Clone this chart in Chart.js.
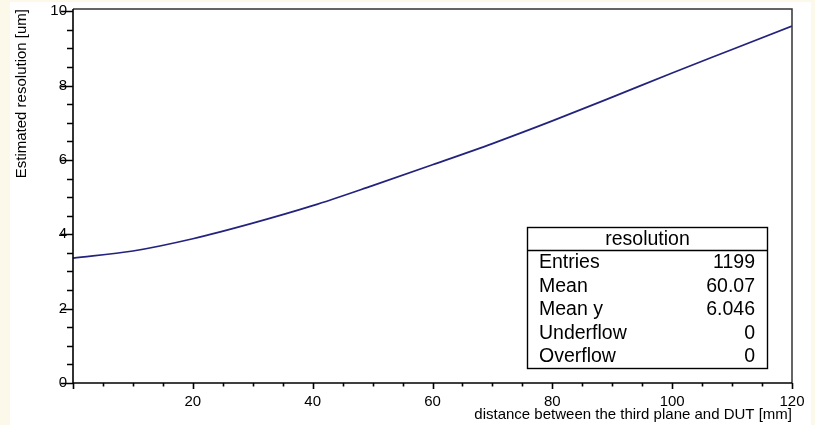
<!DOCTYPE html>
<html>
<head>
<meta charset="utf-8">
<script src="https://cdn.jsdelivr.net/npm/chart.js@4/dist/chart.umd.min.js"></script>
<style>
  html, body { margin: 0; padding: 0; background: #fcf8ea; }
  #wrap { width: 815px; height: 425px; }
</style>
</head>
<body>
<div id="wrap"><canvas id="resChart" width="815" height="425"></canvas></div>
<script>
// distance between the third plane and DUT [mm]
const distances = [0, 10, 20, 30, 40, 50, 60, 70, 80, 90, 100, 110, 120];
// estimated resolution [um]
const resolutions = [3.36, 3.55, 3.88, 4.30, 4.77, 5.31, 5.87, 6.44, 7.05, 7.69, 8.34, 8.97, 9.60];

const xTickLabels = [20, 40, 60, 80, 100, 120];
const yTickLabels = [0, 2, 4, 6, 8, 10];

// stats box
const statsTitle = 'resolution';
const statsNames = ['Entries', 'Mean', 'Mean y', 'Underflow', 'Overflow'];
const statsValues = ['1199', '60.07', '6.046', '0', '0'];

const FONT = '"Liberation Sans", Arial, sans-serif';

// cream page with white pad
const padBackground = {
  id: 'padBackground',
  beforeDraw(chart) {
    const c = chart.ctx;
    c.save();
    c.fillStyle = '#fcf8ea';
    c.fillRect(0, 0, chart.width, chart.height);
    c.fillStyle = '#ffffff';
    c.fillRect(10, 2, 801, 423);
    c.restore();
  }
};

// ROOT style frame + major/minor ticks
const rootFrame = {
  id: 'rootFrame',
  afterDatasetsDraw(chart) {
    const c = chart.ctx;
    const a = chart.chartArea;
    const xs = chart.scales.x, ys = chart.scales.y;
    c.save();
    c.strokeStyle = '#333';
    c.lineWidth = 1.5;
    c.beginPath();
    c.moveTo(a.left, a.top); c.lineTo(a.right, a.top); c.lineTo(a.right, a.bottom);
    c.stroke();
    c.strokeStyle = '#000';
    c.lineWidth = 1.6;
    c.beginPath();
    c.moveTo(a.left, a.top); c.lineTo(a.left, a.bottom); c.lineTo(a.right, a.bottom);
    // x ticks
    for (let v = 0; v <= 120; v += 5) {
      const px = Math.round(xs.getPixelForValue(v)) + 0.5;
      const len = v % 20 === 0 ? 6 : 3.5;
      c.moveTo(px, a.bottom); c.lineTo(px, a.bottom + len);
    }
    // y ticks
    for (let v = 0; v <= 10; v += 0.5) {
      const py = Math.round(ys.getPixelForValue(v)) + 0.5;
      const len = v % 2 === 0 ? 12 : 6;
      c.moveTo(a.left, py); c.lineTo(a.left - len, py);
    }
    c.stroke();
    c.restore();
  }
};

// stats box
const statsBox = {
  id: 'statsBox',
  afterDraw(chart) {
    const c = chart.ctx;
    const left = 527.5, top = 227.5, w = 240, h = 141;
    c.save();
    c.fillStyle = '#fff';
    c.fillRect(left, top, w, h);
    c.strokeStyle = '#000';
    c.lineWidth = 1.4;
    c.strokeRect(left, top, w, h);
    c.beginPath();
    c.moveTo(left, 250.5); c.lineTo(left + w, 250.5);
    c.stroke();
    c.fillStyle = '#000';
    c.font = '19.5px ' + FONT;
    c.textBaseline = 'middle';
    c.textAlign = 'center';
    c.fillText(statsTitle, left + w / 2, 240);
    statsNames.forEach((name, i) => {
      const y = 263 + i * 23.4;
      c.textAlign = 'left';
      c.fillText(name, 539, y);
      c.textAlign = 'right';
      c.fillText(statsValues[i], 755, y);
    });
    c.restore();
  }
};

new Chart(document.getElementById('resChart'), {
  type: 'line',
  data: {
    datasets: [{
      label: statsTitle,
      data: distances.map((d, i) => ({ x: d, y: resolutions[i] })),
      borderColor: '#23237e',
      borderWidth: 1.7,
      pointRadius: 0,
      cubicInterpolationMode: 'monotone',
      fill: false
    }]
  },
  options: {
    responsive: false,
    animation: false,
    events: [],
    layout: { padding: { left: 10, top: 8, right: 23, bottom: 0 } },
    plugins: { legend: { display: false }, tooltip: { enabled: false } },
    scales: {
      x: {
        type: 'linear',
        min: 0, max: 120,
        afterBuildTicks: s => { s.ticks = xTickLabels.map(v => ({ value: v })); },
        afterFit: s => { s.height = 42; },
        grid: { display: false, drawTicks: false, tickLength: 0 },
        border: { display: false },
        ticks: { color: '#000', font: { family: FONT, size: 15 }, padding: 10, maxRotation: 0 },
        title: {
          display: true, align: 'end',
          text: 'distance between the third plane and DUT [mm]',
          color: '#000', font: { family: FONT, size: 15, lineHeight: 1.1 }, padding: { top: 0, bottom: 2 }
        }
      },
      y: {
        type: 'linear',
        min: 0, max: 10.06,
        afterBuildTicks: s => { s.ticks = yTickLabels.map(v => ({ value: v })); },
        afterFit: s => { s.width = 63; },
        grid: { display: false, drawTicks: false, tickLength: 0 },
        border: { display: false },
        ticks: { color: '#000', font: { family: FONT, size: 15, lineHeight: 0.4 }, padding: 6 },
        title: {
          display: true, align: 'end',
          text: 'Estimated resolution [um]',
          color: '#000', font: { family: FONT, size: 15 }, padding: { top: 3, bottom: 0 }
        }
      }
    }
  },
  plugins: [padBackground, rootFrame, statsBox]
});
</script>
</body>
</html>
